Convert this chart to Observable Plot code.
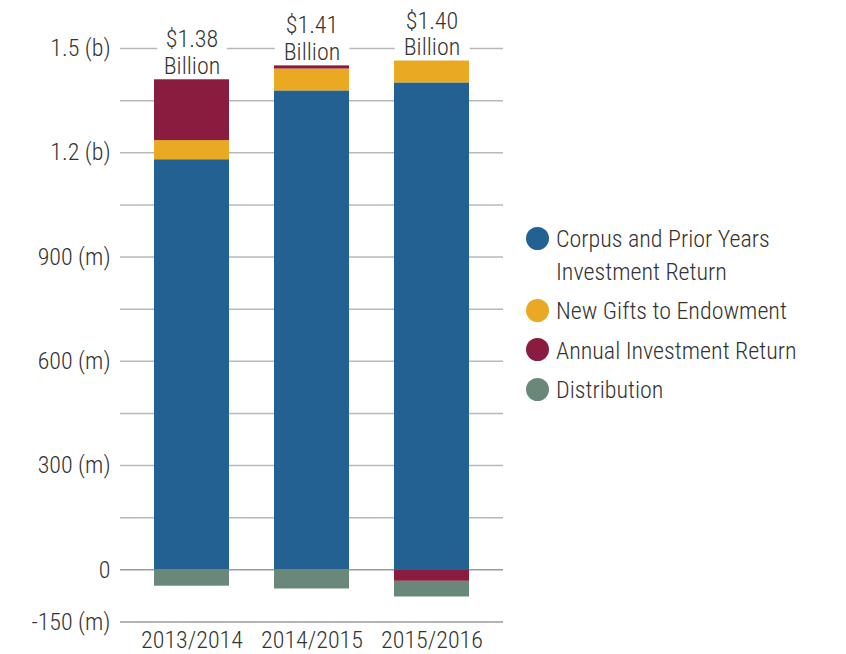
<!DOCTYPE html>
<html>
<head>
<meta charset="utf-8">
<script src="https://cdn.jsdelivr.net/npm/d3@7"></script>
<script src="https://cdn.jsdelivr.net/npm/@observablehq/plot@0.6"></script>
<style>
  html, body { margin: 0; padding: 0; background: #fff; }
  #wrap { position: relative; width: 846px; height: 654px; font-family: "Roboto Condensed", "Open Sans Condensed", sans-serif; font-weight: 300; color: #333; }
  #legend { position: absolute; left: 526px; top: 223px; font-size: 24px; line-height: 32.5px; }
  .item { display: flex; align-items: flex-start; margin-bottom: 7px; }
  .sw { width: 23px; height: 23px; border-radius: 50%; margin-top: 3.5px; margin-right: 7px; flex: none; }
</style>
</head>
<body>
<div id="wrap"></div>
<script>
const years = ["2013/2014", "2014/2015", "2015/2016"];
const seriesNames = ["Corpus and Prior Years Investment Return", "New Gifts to Endowment", "Annual Investment Return", "Distribution"];
const seriesColors = ["#246193", "#E9A922", "#8A1C40", "#698879"];
// values in millions of dollars
const corpus = [1180, 1378, 1401];
const gifts = [55, 63, 63];
const annualReturn = [175, 9, -33];
const distribution = [-47, -55, -45];
const totalLabels = ["$1.38\nBillion", "$1.41\nBillion", "$1.40\nBillion"];
const yTicks = [-150, 0, 300, 600, 900, 1200, 1500];
const yTickLabels = ["-150 (m)", "0", "300 (m)", "600 (m)", "900 (m)", "1.2 (b)", "1.5 (b)"];
const gridValues = [-150, 0, 150, 300, 450, 600, 750, 900, 1050, 1200, 1350, 1500];

const seriesValues = [corpus, gifts, annualReturn, distribution];
const rows = [];
years.forEach((yr, i) => {
  seriesNames.forEach((s, j) => rows.push({year: yr, series: s, value: seriesValues[j][i]}));
});
const tops = years.map((yr, i) => ({
  year: yr,
  top: seriesValues.reduce((a, arr) => a + Math.max(0, arr[i]), 0),
  label: totalLabels[i]
}));

const font = '"Roboto Condensed", "Open Sans Condensed", sans-serif';
const fs = 24;

const chart = Plot.plot({
  width: 846,
  height: 654,
  marginLeft: 120,
  marginRight: 343,
  marginTop: 48,
  marginBottom: 32.5,
  style: {fontFamily: font, fontSize: fs + "px", fontWeight: 300, color: "#333", background: "white"},
  x: {domain: years, paddingInner: 0.375, paddingOuter: 0.283, label: null},
  y: {domain: [-150, 1500], label: null},
  color: {domain: seriesNames, range: seriesColors},
  marks: [
    Plot.ruleY(gridValues, {stroke: d => d <= 0 ? "#9a9a9a" : "#b8b8b8", strokeWidth: 1.5}),
    Plot.text(tops, {x: "year", y: "top", text: "label", lineAnchor: "bottom", dy: -6, lineHeight: 1.1,
      fill: "white", stroke: "white", strokeWidth: 22, fontSize: fs}),
    Plot.text(tops, {x: "year", y: "top", text: "label", lineAnchor: "bottom", dy: -6, lineHeight: 1.1,
      fill: "#333", fontSize: fs}),
    Plot.barY(rows, {x: "year", y: "value", fill: "series"}),
    Plot.axisY({ticks: yTicks, tickFormat: d => yTickLabels[yTicks.indexOf(d)], tickSize: 0, tickPadding: 10, fontSize: fs, fill: "#333"}),
    Plot.axisX({tickSize: 0, tickPadding: 8.5, fontSize: fs, fill: "#333"})
  ]
});

const wrap = document.getElementById("wrap");
wrap.appendChild(chart);
const legend = document.createElement("div");
legend.id = "legend";
const legendLabels = ["Corpus and Prior Years<br>Investment Return", "New Gifts to Endowment", "Annual Investment Return", "Distribution"];
seriesNames.forEach((s, j) => {
  const it = document.createElement("div");
  it.className = "item";
  it.innerHTML = `<span class="sw" style="background:${seriesColors[j]}"></span><span style="white-space:nowrap">${legendLabels[j]}</span>`;
  legend.appendChild(it);
});
wrap.appendChild(legend);
</script>
</body>
</html>
